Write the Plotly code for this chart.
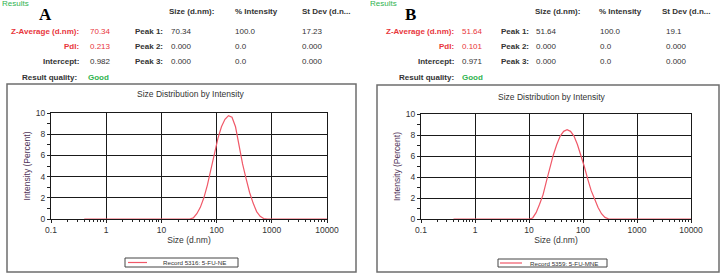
import plotly.graph_objects as go

W, H = 721, 274

# ---------------- data ----------------
sizes = [0.4, 0.4632, 0.5365, 0.6213, 0.7195, 0.8332, 0.9649, 1.117, 1.294, 1.499,
         1.736, 2.01, 2.328, 2.696, 3.122, 3.615, 4.187, 4.849, 5.615, 6.503,
         7.531, 8.721, 10.1, 11.7, 13.54, 15.69, 18.17, 21.04, 24.36, 28.21,
         32.67, 37.84, 43.82, 50.75, 58.77, 68.06, 78.82, 91.28, 105.7, 122.4,
         141.8, 164.2, 190.1, 220.2, 255.0, 295.3, 342.0, 396.1, 458.7, 531.2,
         615.1, 712.4, 825.0, 955.4, 1106, 1281, 1484, 1718, 1990, 2305,
         2669, 3091, 3580, 4145, 4801, 5560, 6439, 7456, 8635, 10000]

intensity_A = [0]*31 + [0.1, 0.5, 1.1, 2.0, 3.2, 4.7, 6.2, 7.6, 8.7, 9.4,
                        9.75, 9.6, 8.7, 6.9, 5.2, 3.8, 2.5, 1.5, 0.7, 0.25,
                        0.05] + [0]*18
intensity_B = [0]*23 + [0.1, 0.6, 1.4, 2.3, 3.6, 5.0, 6.1, 7.1, 7.9, 8.35,
                        8.5, 8.35, 7.9, 7.1, 6.1, 5.0, 3.8, 2.7, 1.9, 1.1,
                        0.5, 0.15, 0.02] + [0]*24

record_A = "Record 5316: 5-FU-NE"
record_B = "Record 5359: 5-FU-MNE"

x_tickvals = [0.1, 1, 10, 100, 1000, 10000]
x_ticktext = ["0.1", "1", "10", "100", "1000", "10000"]
x_minor = [m * 10**e for e in range(-1, 4) for m in range(2, 10)]
y_tickvals = [0, 2, 4, 6, 8, 10]
y_minor = [1, 3, 5, 7, 9]

col_headers = ["Size (d.nm):", "% Intensity", "St Dev (d.n..."]
peak_labels = ["Peak 1:", "Peak 2:", "Peak 3:"]

zavg_A, pdi_A, intercept_A, quality_A = "70.34", "0.213", "0.982", "Good"
peaks_A = [["70.34", "100.0", "17.23"], ["0.000", "0.0", "0.000"], ["0.000", "0.0", "0.000"]]
zavg_B, pdi_B, intercept_B, quality_B = "51.64", "0.101", "0.971", "Good"
peaks_B = [["51.64", "100.0", "19.1"], ["0.000", "0.0", "0.000"], ["0.000", "0.0", "0.000"]]

# ---------------- styling ----------------
RED = "#e8363c"
CURVE = "#f05868"
GREEN = "#2fb34f"
DARK = "#333333"
AXTITLE = "#4f3458"
FONT = "Liberation Sans, Arial, sans-serif"

def px(x):
    return x / W

def py(y):
    return 1 - y / H

fig = go.Figure()
fig.add_trace(go.Scatter(x=sizes, y=intensity_A, mode="lines", xaxis="x", yaxis="y",
                         line=dict(color=CURVE, width=1.2), showlegend=False, hoverinfo="x+y"))
fig.add_trace(go.Scatter(x=sizes, y=intensity_B, mode="lines", xaxis="x2", yaxis="y2",
                         line=dict(color=CURVE, width=1.2), showlegend=False, hoverinfo="x+y"))

def xaxis(domain, anchor):
    return dict(type="log", range=[-1, 4], domain=domain, anchor=anchor,
                tickmode="array", tickvals=x_tickvals, ticktext=x_ticktext,
                ticks="outside", ticklen=3, tickcolor="#222", tickwidth=1,
                minor=dict(tickmode="array", tickvals=x_minor, ticks="outside",
                           ticklen=2, tickcolor="#222", showgrid=False),
                showgrid=True, gridcolor="#1a1a1a", gridwidth=1,
                showline=True, linecolor="#1a1a1a", linewidth=1, mirror=True,
                zeroline=False, layer="below traces",
                tickfont=dict(family=FONT, size=8.5, color=DARK),
                title=dict(text="Size (d.nm)", font=dict(family=FONT, size=8.5, color=DARK),
                           standoff=2),
                automargin=False, fixedrange=True)

def yaxis(domain, anchor):
    return dict(range=[0, 10], domain=domain, anchor=anchor,
                tickmode="array", tickvals=y_tickvals,
                ticks="outside", ticklen=3, tickcolor="#222", tickwidth=1,
                minor=dict(tickmode="array", tickvals=y_minor, ticks="outside",
                           ticklen=3, tickcolor="#222", showgrid=False),
                showgrid=True, gridcolor="#1a1a1a", gridwidth=1,
                showline=True, linecolor="#1a1a1a", linewidth=1, mirror=True,
                zeroline=False, layer="below traces",
                tickfont=dict(family=FONT, size=8.5, color=DARK),
                title=dict(text="Intensity (Percent)", font=dict(family=FONT, size=8.5, color=AXTITLE),
                           standoff=3),
                automargin=False, fixedrange=True)

fig.update_layout(
    width=W, height=H, autosize=False,
    margin=dict(l=0, r=0, t=0, b=0),
    paper_bgcolor="white", plot_bgcolor="white",
    xaxis=xaxis([px(51), px(327)], "y"),
    yaxis=yaxis([py(219), py(113)], "x"),
    xaxis2=xaxis([px(421), px(691)], "y2"),
    yaxis2=yaxis([py(219), py(114)], "x2"),
    showlegend=False,
)

shapes = []
annotations = []

def text(x, y, s, size=8, color=DARK, bold=False, anchor="left", family=FONT):
    if bold:
        s = "<b>" + s + "</b>"
    annotations.append(dict(x=px(x), y=py(y), xref="paper", yref="paper", text=s,
                            showarrow=False, xanchor=anchor, yanchor="middle",
                            font=dict(family=family, size=size, color=color)))

def panel(ox, letter, letter_x, frame, label_end, value_x, quality_end, good_x,
          peak_x, val_cols, hdr_cols, zavg, pdi, intercept, quality, peaks,
          title_x, title_y, legend_box, sample, text_x, record):
    text(ox, 4, "Results", size=8, color=GREEN)
    text(letter_x, 14, letter, size=17, color="black", bold=True,
         family="Liberation Serif, Times New Roman, serif")
    for hx, h in zip(hdr_cols, col_headers):
        text(hx, 11, h, bold=True)
    rows_y = [32, 46.5, 61.5]
    text(label_end, rows_y[0], "Z-Average (d.nm):", color=RED, bold=True, anchor="right")
    text(value_x, rows_y[0], zavg, color=RED)
    text(label_end, rows_y[1], "PdI:", color=RED, bold=True, anchor="right")
    text(value_x, rows_y[1], pdi, color=RED)
    text(label_end, rows_y[2], "Intercept:", bold=True, anchor="right")
    text(value_x, rows_y[2], intercept)
    text(quality_end, 77, "Result quality:", bold=True, anchor="right")
    text(good_x, 77, quality, color=GREEN, bold=True)
    for ry, pl, vals in zip(rows_y, peak_labels, peaks):
        text(peak_x, ry, pl, bold=True)
        for vx, v in zip(val_cols, vals):
            text(vx, ry, v)
    # frame
    fx0, fy0, fx1, fy1 = frame
    shapes.append(dict(type="rect", xref="paper", yref="paper",
                       x0=px(fx0), x1=px(fx1), y0=py(fy1), y1=py(fy0),
                       line=dict(color="#6e6e6e", width=1.5)))
    # chart title
    text(title_x, title_y, "Size Distribution by Intensity", size=8.5, anchor="center")
    # legend box
    lx0, ly0, lx1, ly1 = legend_box
    shapes.append(dict(type="rect", xref="paper", yref="paper",
                       x0=px(lx0), x1=px(lx1), y0=py(ly1), y1=py(ly0),
                       line=dict(color="#444", width=1), fillcolor="white"))
    ym = (ly0 + ly1) / 2
    shapes.append(dict(type="line", xref="paper", yref="paper",
                       x0=px(sample[0]), x1=px(sample[1]), y0=py(ym), y1=py(ym),
                       line=dict(color=CURVE, width=1.2)))
    text(text_x, ym, record, size=6.2)

panel(0, "A", 37, (7, 84, 356, 272), 81, 88, 79, 86, 133, [169, 233, 300],
      [167, 233, 300], zavg_A, pdi_A, intercept_A, quality_A, peaks_A,
      191, 94, (125, 258, 238, 267), (128, 147), 161, record_A)
panel(368, "B", 403, (377, 85, 719, 272), 456, 460, 456, 460, 499, [534, 598, 664],
      [533, 597, 660], zavg_B, pdi_B, intercept_B, quality_B, peaks_B,
      552, 97, (498, 259, 607, 267), (500, 522), 528, record_B)

fig.update_layout(shapes=shapes, annotations=annotations)
fig.write_html("out.html",
               config={"displayModeBar": False},
               post_script="document.body.style.margin='0';document.body.style.padding='0';"
                           "document.body.style.overflow='hidden';")
